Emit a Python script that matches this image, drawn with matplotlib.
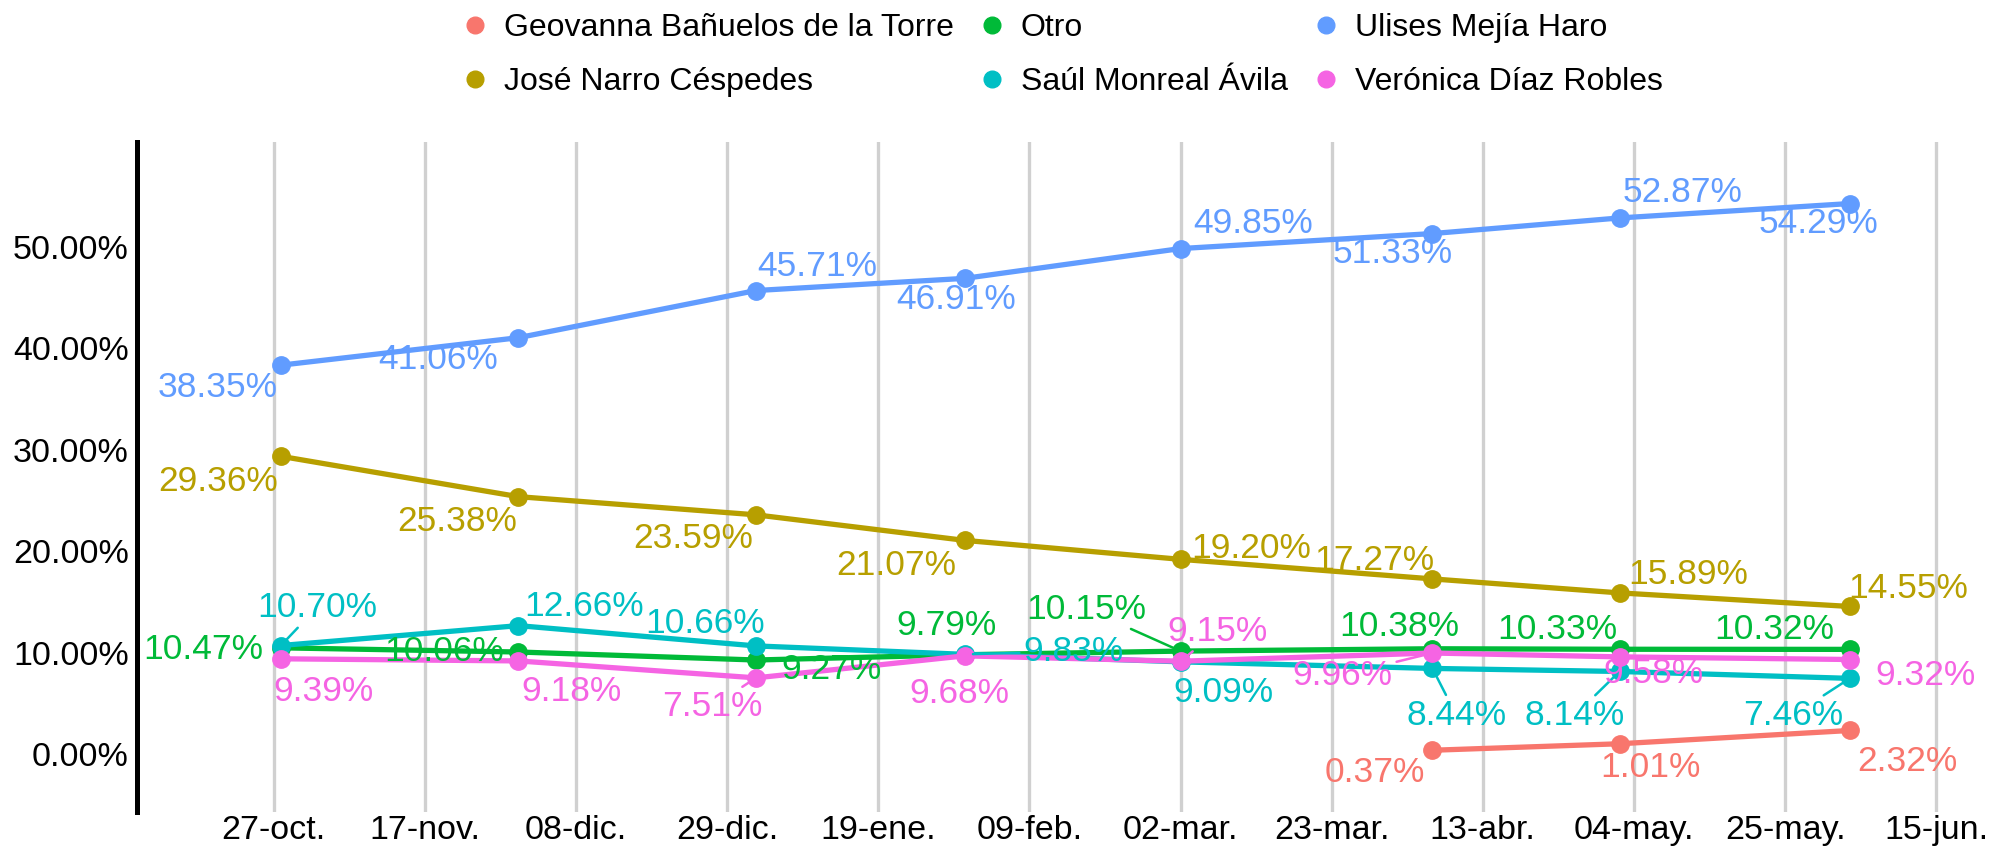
import numpy as np
import matplotlib
matplotlib.use("Agg")
import matplotlib.pyplot as plt
from matplotlib.lines import Line2D

plt.rcParams['font.family'] = ['Liberation Sans', 'DejaVu Sans']

# fechas de cada encuesta
fechas = np.array(['2024-10-28', '2024-11-30', '2025-01-02', '2025-01-31',
                   '2025-03-02', '2025-04-06', '2025-05-02', '2025-06-03'], dtype='datetime64[D]')

nombres = ['Geovanna Bañuelos de la Torre', 'José Narro Céspedes', 'Otro',
           'Saúl Monreal Ávila', 'Ulises Mejía Haro', 'Verónica Díaz Robles']
colores = ['#F8766D', '#B79F00', '#00BA38', '#00BFC4', '#619CFF', '#F564E3']

geovanna = [None, None, None, None, None, 0.37, 1.01, 2.32]
narro = [29.36, 25.38, 23.59, 21.07, 19.20, 17.27, 15.89, 14.55]
otro = [10.47, 10.06, 9.27, 9.79, 10.15, 10.38, 10.33, 10.32]
saul = [10.70, 12.66, 10.66, 9.83, 9.09, 8.44, 8.14, 7.46]
ulises = [38.35, 41.06, 45.71, 46.91, 49.85, 51.33, 52.87, 54.29]
veronica = [9.39, 9.18, 7.51, 9.68, 9.15, 9.96, 9.58, 9.32]
series = [geovanna, narro, otro, saul, ulises, veronica]

tick_fechas = np.arange(np.datetime64('2024-10-27'), np.datetime64('2025-06-16'), 21)
tick_labels = ['27-oct.', '17-nov.', '08-dic.', '29-dic.', '19-ene.', '09-feb.',
               '02-mar.', '23-mar.', '13-abr.', '04-may.', '25-may.', '15-jun.']

# posicion de etiquetas (pixeles, x derecha / y abajo) y si llevan linea guia
offsets = [
    [None, None, None, None, None, (-58, 22), (31, 24), (58, 31)],
    [(-63, 25), (-61, 25), (-63, 24), (-68, 25), (71, -11), (-58, -18), (69, -18), (58, -18)],
    [(-78, 2), (-74, -1), (76, 9), (-18, -29), (-94, -42), (-33, -22), (-62, -20), (-76, -20)],
    [(36, -38), (66, -19), (-51, -22), (109, -3), (43, 31), (24, 47), (-45, 44), (-57, 37)],
    [(-63, 22), (-80, 22), (61, -24), (-9, 21), (73, -25), (-40, 20), (63, -25), (-31, 20)],
    [(43, 33), (53, 31), (-44, 29), (-5, 38), (37, -30), (-90, 22), (34, 17), (76, 16)],
]
guias = [
    [],
    [],
    [4],
    [0, 3, 5, 6, 7],
    [],
    [2, 4, 5],
]

fig = plt.figure(figsize=(19.9, 8.48), dpi=100)
ax = fig.add_axes([137 / 1990, 36 / 848, (1965 - 137) / 1990, 670 / 848])

for i, (vals, c) in enumerate(zip(series, colores)):
    idx = [k for k, v in enumerate(vals) if v is not None]
    xs = fechas[idx].astype('datetime64[ms]').astype(object)
    ys = [vals[k] for k in idx]
    ax.plot(xs, ys, color=c, lw=3.8, marker='o', ms=12.5, zorder=3 + i)
    for k in idx:
        dx, dy = offsets[i][k]
        arrow = None
        if k in guias[i]:
            arrow = dict(arrowstyle='-', color=c, lw=1.8, shrinkA=1, shrinkB=6)
        ax.annotate(f'{vals[k]:.2f}%', xy=(fechas[k].astype('datetime64[ms]').astype(object), vals[k]),
                    xytext=(dx, -dy), textcoords='offset pixels', ha='center', va='center',
                    fontsize=25.5, color=c, arrowprops=arrow, zorder=10)

ax.set_xlim(np.datetime64('2024-10-08').astype(object), np.datetime64('2025-06-19').astype(object))
ax.set_ylim(-5.72, 60.36)
ax.set_xticks(tick_fechas.astype(object))
ax.set_xticklabels(tick_labels)
ax.set_yticks([0, 10, 20, 30, 40, 50])
ax.set_yticklabels([f'{v:.2f}%' for v in [0, 10, 20, 30, 40, 50]])
ax.tick_params(axis='y', length=0, labelsize=24.5, pad=6)
ax.tick_params(axis='x', length=0, labelsize=24.5, pad=2)
ax.grid(axis='x', color='#d0d0d0', lw=2.4)
ax.set_axisbelow(True)
for s in ['top', 'right', 'bottom']:
    ax.spines[s].set_visible(False)
ax.spines['left'].set_linewidth(3.6)
ax.spines['left'].set_color('black')

handles = [Line2D([], [], marker='o', ls='none', color=c, ms=12) for c in colores]
fig.legend(handles, nombres, loc='center', bbox_to_anchor=(0.534, 1 - 55 / 848), ncol=3,
           frameon=False, fontsize=23, handlelength=0.8, handletextpad=0.5,
           columnspacing=0.8, labelspacing=0.75)

fig.savefig('out.png', dpi=100)
